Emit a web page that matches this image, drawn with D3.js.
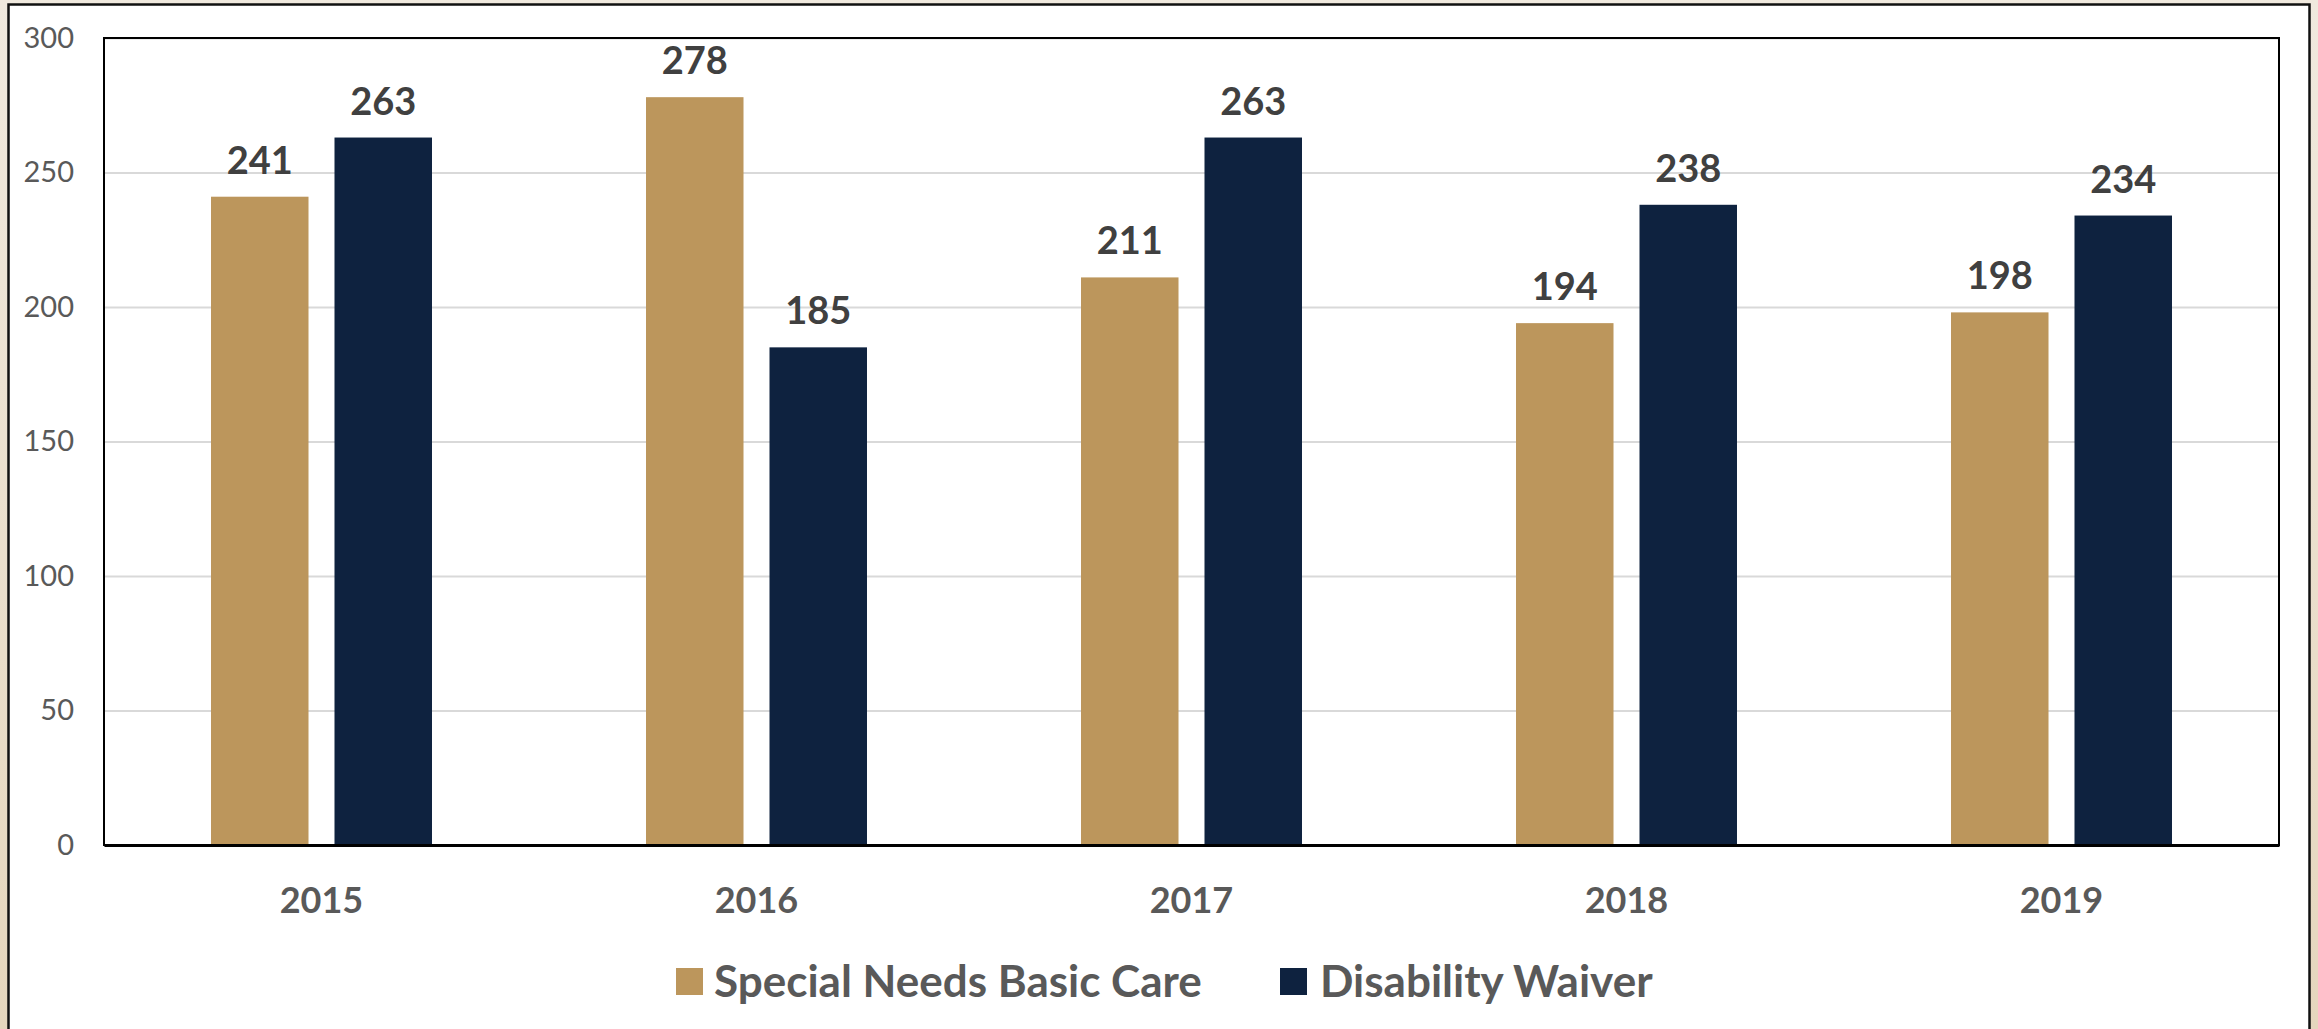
<!DOCTYPE html>
<html>
<head>
<meta charset="utf-8">
<script src="https://cdn.jsdelivr.net/npm/d3@7"></script>
<style>
html,body{margin:0;padding:0;overflow:hidden;}
svg{display:block;}
</style>
</head>
<body>
<script>
const categories = ["2015","2016","2017","2018","2019"];
const seriesNames = ["Special Needs Basic Care","Disability Waiver"];
const specialNeeds = [241,278,211,194,198];
const disabilityWaiver = [263,185,263,238,234];
const yTicks = [0,50,100,150,200,250,300];
const colors = ["#bc965c","#0e223f"];

const W = 2318, H = 1029;
const m = {left:104, right:2279, top:38, bottom:845};

const svg = d3.select("body").append("svg").attr("width",W).attr("height",H);
const defs = svg.append("defs");
const grad = defs.append("linearGradient").attr("id","bg").attr("x1",0).attr("y1",0).attr("x2",0).attr("y2",1);
grad.append("stop").attr("offset","0%").attr("stop-color","#f0e9de");
grad.append("stop").attr("offset","100%").attr("stop-color","#e5d6bd");
svg.append("rect").attr("width",W).attr("height",H).attr("fill","url(#bg)");
svg.append("rect").attr("x",8.5).attr("y",4.5).attr("width",2301).attr("height",1040)
  .attr("fill","#fff").attr("stroke","#111").attr("stroke-width",2.5);

const data = categories.map((c,i)=>({cat:c, vals:[specialNeeds[i], disabilityWaiver[i]]}));

const x0 = d3.scaleBand().domain(categories).range([m.left,m.right]).paddingInner(0.492).paddingOuter(0.246);
const x1 = d3.scaleBand().domain(seriesNames).range([0,x0.bandwidth()]).paddingInner(0.2105).paddingOuter(0);
const y = d3.scaleLinear().domain([0,300]).range([m.bottom,m.top]);

// gridlines
svg.append("g").attr("transform",`translate(${m.left},0)`)
  .call(d3.axisLeft(y).tickValues(yTicks).tickSize(-(m.right-m.left)).tickFormat(""))
  .call(g=>g.select(".domain").remove())
  .call(g=>g.selectAll("line").attr("stroke","#d9d9d9").attr("stroke-width",2));

// y labels
svg.append("g").attr("transform",`translate(${m.left},0)`)
  .call(d3.axisLeft(y).tickValues(yTicks).tickSize(0).tickPadding(30))
  .call(g=>g.select(".domain").remove())
  .call(g=>g.selectAll("text").attr("fill","#595959").attr("font-family","Lato, sans-serif").attr("font-size",29));

// bars
const groups = svg.append("g").selectAll("g").data(data).join("g")
  .attr("transform",d=>`translate(${x0(d.cat)},0)`);
groups.selectAll("rect").data(d=>d.vals.map((v,j)=>({name:seriesNames[j],v,j}))).join("rect")
  .attr("x",d=>x1(d.name)).attr("width",x1.bandwidth())
  .attr("y",d=>y(d.v)).attr("height",d=>y(0)-y(d.v))
  .attr("fill",d=>colors[d.j]);
groups.selectAll("text").data(d=>d.vals.map((v,j)=>({name:seriesNames[j],v,j}))).join("text")
  .attr("x",d=>x1(d.name)+x1.bandwidth()/2).attr("y",d=>y(d.v)-23)
  .attr("text-anchor","middle").attr("fill","#404040")
  .attr("font-family","Lato, sans-serif").attr("font-weight","bold").attr("font-size",38)
  .text(d=>d.v);

// plot frame
svg.append("rect").attr("x",m.left).attr("y",m.top).attr("width",m.right-m.left).attr("height",m.bottom-m.top)
  .attr("fill","none").attr("stroke","#000").attr("stroke-width",2);

// x axis
svg.append("g").attr("transform",`translate(0,${m.bottom})`)
  .call(d3.axisBottom(x0).tickSize(0).tickPadding(42))
  .call(g=>g.select(".domain").attr("stroke","#000").attr("stroke-width",3))
  .call(g=>g.selectAll("text").attr("fill","#595959").attr("font-family","Lato, sans-serif").attr("font-weight","bold").attr("font-size",36));

// legend
const legendItems = [{name:seriesNames[0],x:676,tx:714,c:colors[0]},{name:seriesNames[1],x:1280,tx:1320,c:colors[1]}];
const lg = svg.append("g");
lg.selectAll("rect").data(legendItems).join("rect")
  .attr("x",d=>d.x).attr("y",968).attr("width",27).attr("height",27).attr("fill",d=>d.c);
lg.selectAll("text").data(legendItems).join("text")
  .attr("x",d=>d.tx).attr("y",982).attr("dy","0.35em")
  .attr("fill","#595959").attr("font-family","Lato, sans-serif").attr("font-weight","bold").attr("font-size",44)
  .text(d=>d.name);
</script>
</body>
</html>
